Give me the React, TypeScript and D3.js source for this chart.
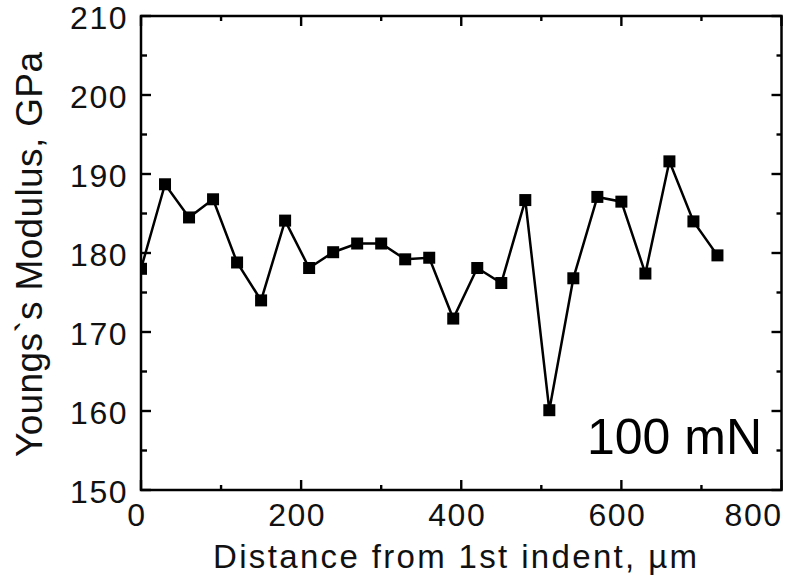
import React from 'react';
import * as d3 from 'd3';

// distance from 1st indent (µm) and Young's modulus (GPa)
const distance = [0, 30, 60, 90, 120, 150, 180, 210, 240, 270, 300, 330, 360, 390, 420, 450, 480, 510, 540, 570, 600, 630, 660, 690, 720];
const modulus = [178.0, 188.7, 184.5, 186.8, 178.8, 174.0, 184.1, 178.1, 180.1, 181.2, 181.2, 179.2, 179.4, 171.7, 178.1, 176.2, 186.7, 160.1, 176.8, 187.1, 186.5, 177.4, 191.6, 184.0, 179.7];

const xMajor = [0, 200, 400, 600, 800];
const xMinor = [100, 300, 500, 700];
const yMajor = [150, 160, 170, 180, 190, 200, 210];
const yMinor = [155, 165, 175, 185, 195, 205];

const W = 789;
const H = 579;
const FONT = '"Liberation Sans", Arial, Helvetica, sans-serif';

export default function App() {
  const x = d3.scaleLinear().domain([0, 800]).range([141, 781.5]);
  const y = d3.scaleLinear().domain([150, 210]).range([490, 16]);
  const [x0, x1] = x.range();
  const [y0, y1] = y.range();

  const pts: [number, number][] = distance.map((d, i) => [x(d), y(modulus[i])]);
  const line = d3.line()(pts);

  const mk = 12;

  return (
    <svg width={W} height={H} style={{ position: 'absolute', left: 0, top: 0, background: '#fff' }} fontFamily={FONT}>
      <defs>
        <clipPath id="plot">
          <rect x={x0} y={y1} width={x1 - x0} height={y0 - y1} />
        </clipPath>
      </defs>

      <g clipPath="url(#plot)">
        <path d={line || ''} fill="none" stroke="#000" strokeWidth={2.5} />
        {pts.map((p, i) => (
          <rect key={i} x={p[0] - mk / 2} y={p[1] - mk / 2} width={mk} height={mk} fill="#000" />
        ))}
      </g>

      {/* ticks, inward on all four sides */}
      <g stroke="#000" strokeWidth={2.4}>
        {xMajor.map(v => (
          <g key={'xM' + v}>
            <line x1={x(v)} x2={x(v)} y1={y0} y2={y0 - 10} />
            <line x1={x(v)} x2={x(v)} y1={y1} y2={y1 + 10} />
          </g>
        ))}
        {xMinor.map(v => (
          <g key={'xm' + v}>
            <line x1={x(v)} x2={x(v)} y1={y0} y2={y0 - 5} />
            <line x1={x(v)} x2={x(v)} y1={y1} y2={y1 + 5} />
          </g>
        ))}
        {yMajor.map(v => (
          <g key={'yM' + v}>
            <line x1={x0} x2={x0 + 10} y1={y(v)} y2={y(v)} />
            <line x1={x1} x2={x1 - 10} y1={y(v)} y2={y(v)} />
          </g>
        ))}
        {yMinor.map(v => (
          <g key={'ym' + v}>
            <line x1={x0} x2={x0 + 6} y1={y(v)} y2={y(v)} />
            <line x1={x1} x2={x1 - 5} y1={y(v)} y2={y(v)} />
          </g>
        ))}
      </g>

      <rect x={x0} y={y1} width={x1 - x0} height={y0 - y1} fill="none" stroke="#000" strokeWidth={2.5} />

      {/* tick labels */}
      <g fontSize={32} fill="#111">
        {xMajor.map((v, i) => (
          <text key={'xl' + v} x={i === xMajor.length - 1 ? x1 + 1 : x(v) - 4} y={526}
            textAnchor={i === xMajor.length - 1 ? 'end' : 'middle'} letterSpacing={1.5}>
            {v}
          </text>
        ))}
        {yMajor.map(v => (
          <text key={'yl' + v} x={128} y={y(v) + 12.5} textAnchor="end" letterSpacing={1.5}>
            {v}
          </text>
        ))}
      </g>

      <text x={213} y={568} fontSize={33} fill="#111" textLength={484} lengthAdjust="spacing">
        Distance from 1st indent, µm
      </text>
      <text transform="translate(42,457) rotate(-90)" x={0} y={0} fontSize={37} fill="#111"
        textLength={405} lengthAdjust="spacing">
        Youngs`s Modulus, GPa
      </text>

      <text x={762} y={454} fontSize={50} fill="#000" textAnchor="end">100 mN</text>
    </svg>
  );
}
